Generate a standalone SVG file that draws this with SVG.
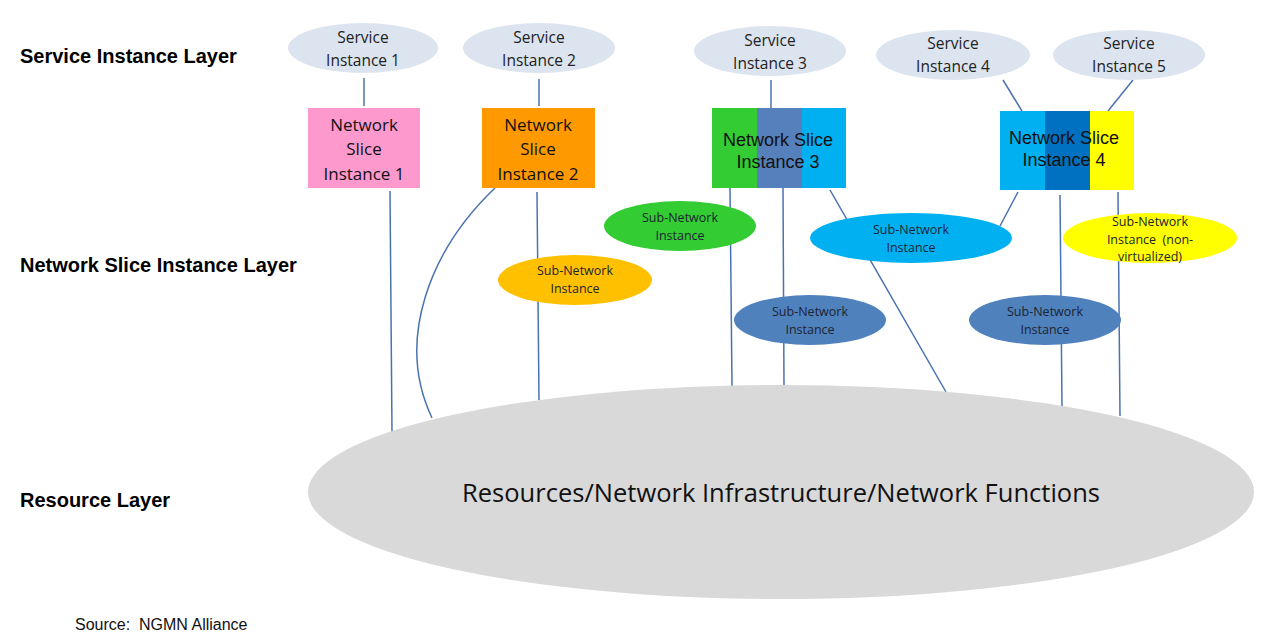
<svg xmlns="http://www.w3.org/2000/svg" width="1268" height="644" viewBox="0 0 1268 644">
<style>
  .lbl{font-family:"Liberation Sans",Arial,sans-serif;font-weight:bold;font-size:20px;fill:#000}
  .si{fill:#dce4f0}
  .st{font-family:"Open Sans","Noto Sans",sans-serif;font-size:15.5px;fill:#222;text-anchor:middle}
  .nt{font-family:"Open Sans","Noto Sans",sans-serif;font-size:17px;fill:#111;text-anchor:middle}
  .na{font-family:"Liberation Sans",Arial,sans-serif;font-size:18px;fill:#111;text-anchor:middle}
  .sn{font-family:"Open Sans","Noto Sans",sans-serif;font-size:12.5px;fill:#1c2433;text-anchor:middle;white-space:pre}
  .ln{stroke:#4a72b0;stroke-width:1.5;fill:none}
</style>
<rect width="1268" height="644" fill="#fff"/>
<text class="lbl" x="20" y="63">Service Instance Layer</text>
<text class="lbl" x="20" y="272">Network Slice Instance Layer</text>
<text class="lbl" x="20" y="507">Resource Layer</text>
<text x="75" y="630" xml:space="preserve" style="font-family:'Liberation Sans',Arial,sans-serif;font-size:16px;fill:#111;white-space:pre">Source:  NGMN Alliance</text>

<g id="connectors">
  <line class="ln" x1="364" y1="78" x2="364" y2="106"/>
  <line class="ln" x1="539" y1="79" x2="539" y2="106"/>
  <line class="ln" x1="771" y1="80" x2="771" y2="108"/>
  <line class="ln" x1="1003" y1="80" x2="1022" y2="111"/>
  <line class="ln" x1="1133" y1="80" x2="1108" y2="111"/>
  <line class="ln" x1="390" y1="191" x2="392" y2="432"/>
  <path class="ln" d="M495,188 C430,250 395,340 432,418"/>
  <line class="ln" x1="537" y1="192" x2="539" y2="400"/>
  <line class="ln" x1="730" y1="188" x2="732" y2="386"/>
  <line class="ln" x1="783" y1="188" x2="784" y2="386"/>
  <line class="ln" x1="830" y1="190" x2="946" y2="392"/>
  <line class="ln" x1="1018" y1="192" x2="1000" y2="226"/>
  <line class="ln" x1="1060" y1="195" x2="1062" y2="406"/>
  <line class="ln" x1="1118" y1="192" x2="1120" y2="416"/>
</g>

<g id="resources">
  <ellipse cx="781" cy="492" rx="473" ry="107" fill="#d9d9d9"/>
  <text x="781" y="502" textLength="638" lengthAdjust="spacingAndGlyphs" style="font-family:'Open Sans','Noto Sans',sans-serif;font-size:25px;fill:#111;text-anchor:middle">Resources/Network Infrastructure/Network Functions</text>
</g>

<g id="si1"><ellipse class="si" cx="363" cy="48" rx="75" ry="25"/><text class="st" x="363" y="43">Service</text><text class="st" x="363" y="66">Instance 1</text></g>
<g id="si2"><ellipse class="si" cx="539" cy="48" rx="76" ry="25"/><text class="st" x="539" y="43">Service</text><text class="st" x="539" y="66">Instance 2</text></g>
<g id="si3"><ellipse class="si" cx="770" cy="51" rx="76" ry="25"/><text class="st" x="770" y="46">Service</text><text class="st" x="770" y="69">Instance 3</text></g>
<g id="si4"><ellipse class="si" cx="953" cy="55" rx="77" ry="25"/><text class="st" x="953" y="49">Service</text><text class="st" x="953" y="72">Instance 4</text></g>
<g id="si5"><ellipse class="si" cx="1129" cy="55" rx="76" ry="25"/><text class="st" x="1129" y="49">Service</text><text class="st" x="1129" y="72">Instance 5</text></g>

<g id="nsi1"><rect x="308" y="108" width="112" height="80" fill="#fd99cc"/>
  <text class="nt" x="364" y="131">Network</text><text class="nt" x="364" y="155">Slice</text><text class="nt" x="364" y="180">Instance 1</text></g>
<g id="nsi2"><rect x="482" y="108" width="113" height="80" fill="#ff9900"/>
  <text class="nt" x="538" y="131">Network</text><text class="nt" x="538" y="155">Slice</text><text class="nt" x="538" y="180">Instance 2</text></g>
<g id="nsi3">
  <rect x="712" y="108" width="45" height="80" fill="#33cc33"/>
  <rect x="757" y="108" width="45" height="80" fill="#5580bb"/>
  <rect x="802" y="108" width="44" height="80" fill="#00b0f0"/>
  <text class="na" x="778" y="146">Network Slice</text><text class="na" x="778" y="168">Instance 3</text></g>
<g id="nsi4">
  <rect x="1000" y="111" width="45" height="79" fill="#00b0f0"/>
  <rect x="1045" y="111" width="45" height="79" fill="#0070c0"/>
  <rect x="1090" y="111" width="44" height="79" fill="#ffff00"/>
  <text class="na" x="1064" y="144">Network Slice</text><text class="na" x="1064" y="166">Instance 4</text></g>

<g id="sn-green"><ellipse cx="680" cy="226" rx="76" ry="25" fill="#33cc33"/><text class="sn" x="680" y="222">Sub-Network</text><text class="sn" x="680" y="240">Instance</text></g>
<g id="sn-orange"><ellipse cx="575" cy="280" rx="77" ry="25" fill="#ffc000"/><text class="sn" x="575" y="275">Sub-Network</text><text class="sn" x="575" y="293">Instance</text></g>
<g id="sn-steel1"><ellipse cx="810" cy="320" rx="76" ry="25" fill="#4f81bd"/><text class="sn" x="810" y="316">Sub-Network</text><text class="sn" x="810" y="334">Instance</text></g>
<g id="sn-sky"><ellipse cx="911" cy="238" rx="101" ry="25" fill="#00b0f0"/><text class="sn" x="911" y="234">Sub-Network</text><text class="sn" x="911" y="252">Instance</text></g>
<g id="sn-yellow"><ellipse cx="1150" cy="238" rx="87" ry="25" fill="#ffff00"/><text class="sn" x="1150" y="226">Sub-Network</text><text class="sn" x="1150" y="244" xml:space="preserve">Instance  (non-</text><text class="sn" x="1150" y="261">virtualized)</text></g>
<g id="sn-steel2"><ellipse cx="1045" cy="320" rx="76" ry="25" fill="#4f81bd"/><text class="sn" x="1045" y="316">Sub-Network</text><text class="sn" x="1045" y="334">Instance</text></g>
</svg>
